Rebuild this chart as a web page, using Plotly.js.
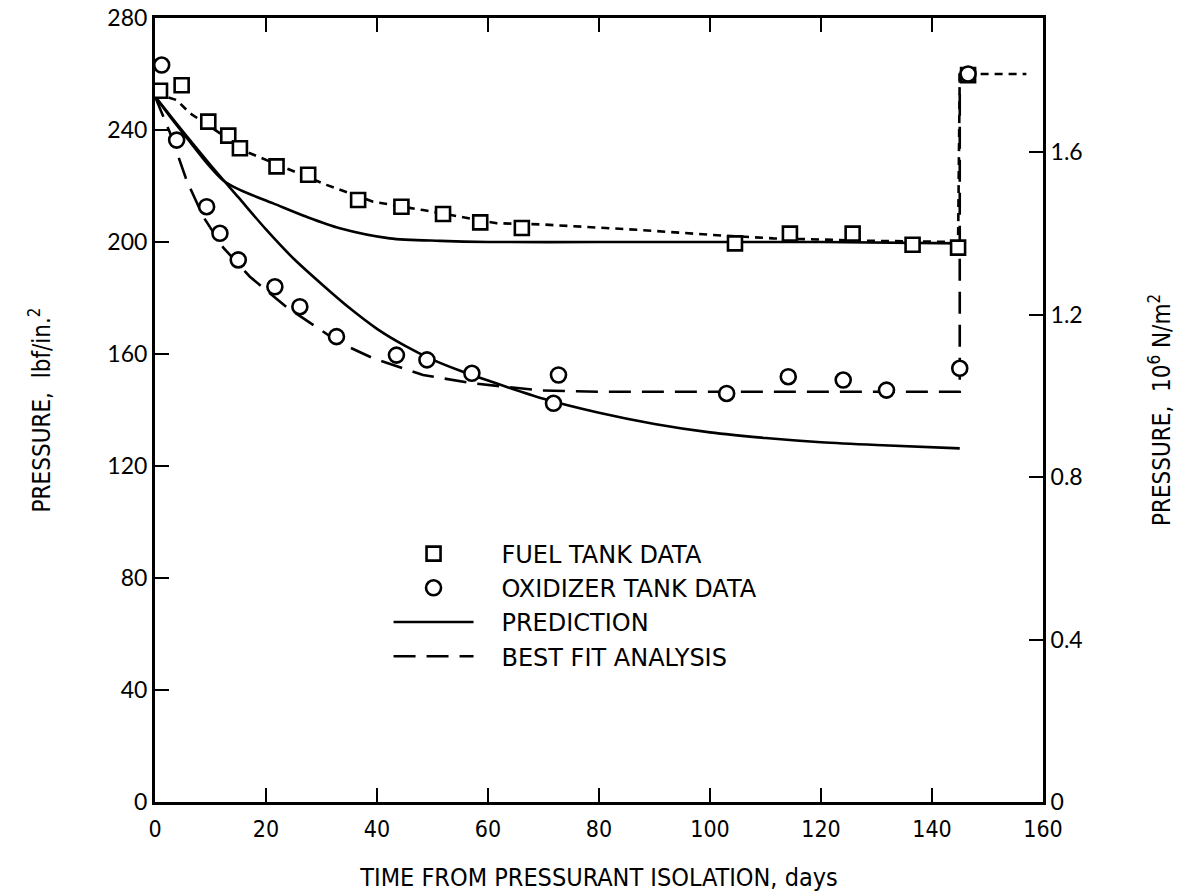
<!DOCTYPE html>
<html>
<head>
<meta charset="utf-8">
<script src="https://cdn.plot.ly/plotly-3.0.1.min.js"></script>
<style>html,body{margin:0;padding:0;background:#fff;}#chart{width:1193px;height:895px;}</style>
</head>
<body>
<div id="chart"></div>
<script>
// ---- data (days, lbf/in.^2) ----
const fuelDays = [0.9, 4.8, 9.6, 13.2, 15.3, 21.9, 27.6, 36.6, 44.4, 51.9, 58.6, 66.1, 104.5, 114.4, 125.7, 136.5, 144.7, 146.5];
const fuelP    = [254, 256, 243, 238, 233.5, 227, 224, 215, 212.6, 210, 207, 205, 199.5, 203, 203, 199, 198, 259.6];

const oxDays = [1.2, 3.9, 9.3, 11.7, 15.0, 21.6, 26.1, 32.7, 43.5, 49.0, 57.1, 72.7, 71.8, 103.0, 114.1, 124.0, 131.8, 145.0, 146.5];
const oxP    = [263.2, 236.4, 212.6, 203.1, 193.6, 184.0, 176.9, 166.2, 159.6, 157.9, 153.1, 152.5, 142.4, 145.9, 151.9, 150.7, 147.1, 154.9, 260];

const predFuelDays = [0, 3, 6, 9, 12.3, 15.3, 21.3, 27.3, 33.3, 42.3, 51.4, 60, 80, 100, 120, 145.5];
const predFuelP    = [252, 244, 236.5, 229, 222, 218.6, 213.8, 209, 204.9, 201.3, 200.4, 200, 200, 200, 200, 199.5];

const predOxDays = [0, 5, 10, 15, 20, 25, 30, 35, 40, 45, 50, 55, 60, 70, 80, 90, 100, 110, 120, 130, 145];
const predOxP    = [252, 239.5, 227.5, 216, 204.5, 194, 185, 176.5, 169, 163, 158, 154, 150.5, 144, 139, 135, 132, 130, 128.5, 127.5, 126.3];

const fitFuelDays = [0, 3.9, 6.3, 17.1, 30.9, 39.3, 48.3, 61.6, 69.4, 87.4, 100.6, 111.4, 129.5, 144.7, 145, 157];
const fitFuelP    = [253, 250.7, 246, 231.7, 220.4, 214.4, 211.4, 206.7, 206.3, 204.3, 202.5, 201.3, 200.4, 200, 260, 260];

const fitOxDays = [0, 2.7, 5.7, 8.7, 12.3, 17.1, 23.7, 33.3, 39.3, 48.3, 57.4, 69.4, 80, 145, 145];
const fitOxP    = [252, 239, 222, 209, 198, 187.6, 176.8, 164, 158.5, 152.5, 149.5, 147, 146.5, 146.5, 260];

const xTicks = [0, 20, 40, 60, 80, 100, 120, 140, 160];
const yTicks = [0, 40, 80, 120, 160, 200, 240, 280];
const y2Ticks = [0, 0.4, 0.8, 1.2, 1.6];
const y2Labels = ['0', '0.4', '0.8', '1.2', '1.6'];
const PSI_TO_MPA = 0.00689476;

const txtFont = 'Lato, "Open Sans", sans-serif';
const legFont = '"DejaVu Sans", Verdana, sans-serif';
const condFont = '"Liberation Sans Narrow", "DejaVu Sans Condensed", "Roboto Condensed", sans-serif';
const black = '#000';
const gap = '\u00a0\u00a0\u00a0';

const traces = [
  {x: predFuelDays, y: predFuelP, mode: 'lines', line: {color: black, width: 2.6, shape: 'spline', smoothing: 0.8}, showlegend: false, hoverinfo: 'skip'},
  {x: predOxDays, y: predOxP, mode: 'lines', name: gap + 'PREDICTION', legendrank: 3, line: {color: black, width: 2.6, shape: 'spline', smoothing: 0.8}},
  {x: fitFuelDays, y: fitFuelP, mode: 'lines', showlegend: false, line: {color: black, width: 2.6, dash: '8px,6px'}},
  {x: fitOxDays, y: fitOxP, mode: 'lines', name: gap + 'BEST FIT ANALYSIS', legendrank: 4, line: {color: black, width: 2.6, dash: '22px,11px'}},
  {x: fuelDays, y: fuelP, mode: 'markers', name: gap + 'FUEL TANK DATA', legendrank: 1,
   marker: {symbol: 'square', size: 14, color: '#fff', line: {color: black, width: 2.6}}},
  {x: oxDays, y: oxP, mode: 'markers', name: gap + 'OXIDIZER TANK DATA', legendrank: 2,
   marker: {symbol: 'circle', size: 15, color: '#fff', line: {color: black, width: 2.6}}},
  // invisible trace on the right axis, only to activate yaxis2
  {x: [0], y: [0], yaxis: 'y2', mode: 'markers', marker: {opacity: 0}, showlegend: false, hoverinfo: 'skip'}
];

const layout = {
  width: 1193, height: 895,
  margin: {l: 155, r: 150, t: 18, b: 93},
  paper_bgcolor: '#fff', plot_bgcolor: '#fff',
  font: {family: txtFont, color: black, size: 22},
  showlegend: true,
  legend: {x: 0.263, y: 0.345, xanchor: 'left', yanchor: 'top', bgcolor: 'rgba(0,0,0,0)',
           font: {family: legFont, size: 24, color: black}, itemwidth: 80, tracegroupgap: 0, traceorder: 'normal'},
  xaxis: {
    range: [0, 160], tickvals: xTicks, ticks: 'inside', ticklen: 14, tickwidth: 2, tickcolor: black,
    showline: true, linewidth: 3, linecolor: black, mirror: 'ticks', showgrid: false, zeroline: false,
    ticklabelstandoff: 4,
    tickfont: {family: condFont, size: 23},
    title: {text: 'TIME FROM PRESSURANT ISOLATION, days', standoff: 28,
            font: {family: condFont, size: 25}}
  },
  yaxis: {
    range: [0, 280], tickvals: yTicks, ticks: 'inside', ticklen: 14, tickwidth: 2, tickcolor: black,
    showline: true, linewidth: 3, linecolor: black, showgrid: false, zeroline: false,
    tickfont: {family: txtFont, size: 23},
    title: {text: 'PRESSURE,  lbf/in.<sup>2</sup>', standoff: 50,
            font: {family: condFont, size: 24}}
  },
  yaxis2: {
    overlaying: 'y', side: 'right', range: [0, 280 * PSI_TO_MPA],
    tickvals: y2Ticks, ticktext: y2Labels, ticks: 'inside', ticklen: 14, tickwidth: 2, tickcolor: black,
    showline: true, linewidth: 3, linecolor: black, showgrid: false, zeroline: false,
    tickfont: {family: txtFont, size: 23},
    title: {text: 'PRESSURE,  10<sup>6</sup> N/m<sup>2</sup>', standoff: 72,
            font: {family: condFont, size: 24}}
  }
};

Plotly.newPlot('chart', traces, layout, {displayModeBar: false, staticPlot: true});
</script>
</body>
</html>
